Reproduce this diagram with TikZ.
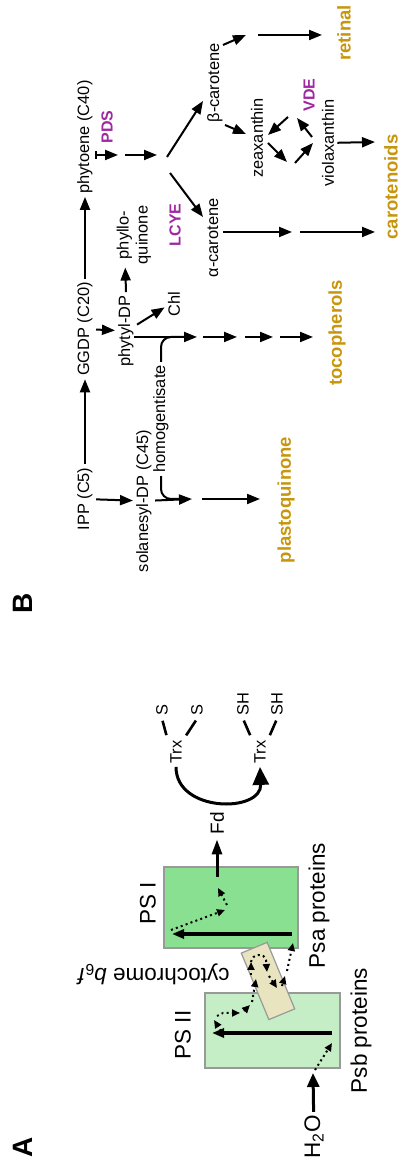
\documentclass[tikz,border=0pt]{standalone}
\usepackage{fontspec}
\setmainfont{Liberation Sans}
\usetikzlibrary{arrows.meta}
\definecolor{gold}{RGB}{200,150,12}
\definecolor{enzymecol}{RGB}{160,40,160}
\definecolor{psone}{RGB}{136,224,144}
\definecolor{pstwo}{RGB}{198,238,198}
\definecolor{cytb}{RGB}{232,228,192}

\begin{document}
\begin{tikzpicture}[>={Triangle[length=6.5pt,width=5pt]},x=0.5pt,y=-0.5pt,rotate=90,transform shape,
	lbl/.style={inner sep=1.5pt,font=\fontsize{8.2}{9.5}\selectfont},
	big/.style={inner sep=1.5pt,font=\fontsize{11.25}{13}\selectfont},
	product/.style={inner sep=1.5pt,text=gold,font=\fontsize{9.25}{11}\selectfont\bfseries},
	enzyme/.style={inner sep=1.5pt,text=enzymecol,font=\fontsize{8}{9.5}\selectfont\bfseries},
	panel/.style={font=\fontsize{14}{16}\selectfont\bfseries},
	complex/.style={draw=gray!80,line width=0.6pt},
	flow/.style={->,line width=1pt},
	merge/.style={line width=1pt,rounded corners=5pt},
	excite/.style={->,line width=1.8pt,>={Triangle[length=6pt,width=4.5pt]}},
	transfer/.style={->,line width=1pt,dash pattern=on 1pt off 1.6pt,>={Triangle[length=4pt,width=3.5pt]}},
	bond/.style={line width=1.3pt,shorten <=1pt,shorten >=1pt},
	redox/.style={->,line width=1.5pt,>={Triangle[length=9pt,width=8pt]}}]
	\useasboundingbox (0,0) rectangle (1165,404);

	\node[panel] (A) at (18,23) {A};
	\node[complex,fill=pstwo,minimum width=37.5pt,minimum height=67.5pt] (ps2) at (134.5,272.5) {};
	\node[complex,fill=psone,minimum width=40.5pt,minimum height=67pt] (ps1) at (257.5,231) {};
	\node[complex,fill=cytb,rotate=22.5,minimum width=36pt,minimum height=14pt] (cyt) at (184,268) {};
	\node[big] (ps2lbl) at (130,183) {PS II};
	\node[big] (ps1lbl) at (262,148) {PS I};
	\node[big,rotate=90] (cytlbl) at (191,153) {cytochrome \textit{b}\textsubscript{6}\textit{f}};
	\node[big] (psb) at (134.5,361) {Psb proteins};
	\node[big] (psa) at (259.5,319) {Psa proteins};
	\node[big] (h2o) at (28,314) {H\textsubscript{2}O};
	\node[inner sep=1.5pt,font=\fontsize{9.5}{11}\selectfont] (fd) at (342,217) {Fd};
	\node[lbl] (trx1) at (413,176) {Trx};
	\node[lbl] (trx2) at (413,260) {Trx};
	\node[lbl] (s1) at (455,162) {S};
	\node[lbl] (s2) at (455,197) {S};
	\node[lbl] (sh1) at (461,243) {SH};
	\node[lbl] (sh2) at (461,277) {SH};

	\coordinate (h2oend) at (92,313);
	\coordinate (w0) at (95,315);
	\coordinate (w1) at (122,332);
	\coordinate (ps2a) at (132,332);
	\coordinate (ps2b) at (132,212);
	\coordinate (d0) at (134,221);
	\coordinate (d1) at (145,214);
	\coordinate (d2) at (149,217);
	\coordinate (d3) at (152,223);
	\coordinate (d4) at (152,240);
	\coordinate (d5) at (154,244);
	\coordinate (d6) at (160,250);
	\coordinate (e0) at (163,252);
	\coordinate (e1) at (186,256);
	\coordinate (e2) at (190,251);
	\coordinate (e3) at (203,251);
	\coordinate (e4) at (205,266);
	\coordinate (e5) at (193,267);
	\coordinate (e6) at (189,269);
	\coordinate (e7) at (177,277);
	\coordinate (e8) at (179,282);
	\coordinate (e9) at (189,285);
	\coordinate (e10) at (194,287);
	\coordinate (e11) at (222,293);
	\coordinate (ps1a) at (231,292);
	\coordinate (ps1b) at (231,172);
	\coordinate (f0) at (235,171);
	\coordinate (f1) at (255,225);
	\coordinate (f2) at (260,227);
	\coordinate (f3) at (277,218);
	\coordinate (fd0) at (288,217);

	\draw[flow,line width=1.5pt,>={Triangle[length=7pt,width=6pt]}] (h2o) -- (h2oend);
	\draw[transfer] (w0) -- (w1);
	\draw[excite] (ps2a) -- (ps2b);
	\draw[transfer] (d0) -- (d1);
	\draw[transfer] (d2) -- (d3) -- (d4);
	\draw[transfer] (d5) -- (d6);
	\draw[transfer] (e0) -- (e1);
	\draw[transfer] (e2) -- (e3);
	\draw[transfer,-] (e3) .. controls (212,252) and (212,265) .. (e4);
	\draw[transfer] (e4) -- (e5);
	\draw[transfer] (e6) -- (e7);
	\draw[transfer] (e8) -- (e9);
	\draw[transfer] (e10) -- (e11);
	\draw[excite] (ps1a) -- (ps1b);
	\draw[transfer] (f0) -- (f1);
	\draw[transfer] (f2) -- (f3);
	\draw[flow,line width=1.5pt,>={Triangle[length=7.5pt,width=5pt]},shorten >=1pt] (fd0) -- (fd);
	\draw[redox] (trx1.west) .. controls (352,176) and (352,262) .. (trx2.west);
	\draw[bond] (trx1.north east) -- (s1.west);
	\draw[bond] (trx1.south east) -- (s2.west);
	\draw[bond] (trx2.north east) -- (sh1.west);
	\draw[bond] (trx2.south east) -- (sh2.west);

	\node[panel] (B) at (562,23) {B};
	\node[lbl] (ipp) at (666,85) {IPP (C5)};
	\node[lbl] (ggdp) at (836,85) {GGDP (C20)};
	\node[lbl] (phyt) at (1028,85) {phytoene (C40)};
	\node[lbl] (sol) at (664,144) {solanesyl-DP (C45)};
	\node[lbl] (homo) at (746,161) {homogentisate};
	\node[lbl] (phytyl) at (834,126) {phytyl-DP};
	\node[lbl,align=center] (phyllo) at (930,134) {phyllo-\\quinone};
	\node[lbl] (chl) at (861,174) {Chl};
	\node[enzyme] (pds) at (1038,107) {PDS};
	\node[enzyme] (lcye) at (940,175) {LCYE};
	\node[enzyme] (vde) at (1070,309) {VDE};
	\node[lbl] (bcar) at (1082,215) {β-carotene};
	\node[lbl] (acar) at (927,213) {α-carotene};
	\node[lbl] (zea) at (1027,257) {zeaxanthin};
	\node[lbl] (vio) at (1022,328) {violaxanthin};
	\node[product] (pq) at (665,286) {plastoquinone};
	\node[product] (toco) at (832,337) {tocopherols};
	\node[product] (car) at (978,391) {carotenoids};
	\node[product] (ret) at (1132,344) {retinal};

	\coordinate (pq1) at (666,192);
	\coordinate (pq2) at (666,202);
	\coordinate (pq3) at (666,260);
	\coordinate (hj0) at (666,161);
	\coordinate (hj1) at (666,182);
	\coordinate (hk0) at (828,161);
	\coordinate (hk1) at (828,186);
	\coordinate (tc0) at (828,134);
	\coordinate (tc1) at (828,197);
	\coordinate (tc2) at (828,203);
	\coordinate (tc3) at (828,237);
	\coordinate (tc4) at (828,245);
	\coordinate (tc5) at (828,273);
	\coordinate (tc6) at (828,280);
	\coordinate (tc7) at (828,313);
	\coordinate (cp0) at (1010,95);
	\coordinate (cp1) at (1010,118);
	\coordinate (cp2) at (1010,125);
	\coordinate (cp3) at (1010,157);
	\coordinate (cb1) at (1008,167);
	\coordinate (cb2) at (1064,203);
	\coordinate (ca1) at (992,170);
	\coordinate (ca2) at (948,203);
	\coordinate (bz1) at (1040,225);
	\coordinate (bz2) at (1031,246);
	\coordinate (rt0) at (1120,223);
	\coordinate (rt1) at (1130,246);
	\coordinate (rt2) at (1130,258);
	\coordinate (rt3) at (1130,322);
	\coordinate (ac0) at (933,223);
	\coordinate (ac1) at (933,292);
	\coordinate (ac2) at (933,300);
	\coordinate (ac3) at (933,375);
	\coordinate (vc1) at (1023,375);
	\coordinate (x1a) at (1048,288);
	\coordinate (x1b) at (1030,268);
	\coordinate (x2a) at (1028,312);
	\coordinate (x2b) at (1047,297);
	\coordinate (x3a) at (1022,268);
	\coordinate (x3b) at (1003,287);
	\coordinate (x4a) at (1002,295);
	\coordinate (x4b) at (1022,313);

	\draw[flow] (ipp) -- (ggdp);
	\draw[flow] (ggdp) -- (phyt);
	\draw[flow] (ipp) -- (sol);
	\draw[flow] (sol) -- (pq1);
	\draw[flow] (pq2) -- (pq3);
	\draw[merge] (homo.west) -- (hj0) -- (hj1);
	\draw[merge] (homo.east) -- (hk0) -- (hk1);
	\draw[flow] (ggdp) -- (phytyl);
	\draw[flow] (phytyl.east) -- (phyllo.165);
	\draw[flow] (phytyl.-60) -- (chl.110);
	\draw[flow] (tc0) -- (tc1);
	\draw[flow] (tc2) -- (tc3);
	\draw[flow] (tc4) -- (tc5);
	\draw[flow] (tc6) -- (tc7);
	\draw[flow,{Bar[width=4pt]}->] (cp0) -- (cp1);
	\draw[flow] (cp2) -- (cp3);
	\draw[flow] (cb1) -- (cb2);
	\draw[flow] (ca1) -- (ca2);
	\draw[flow] (bz1) -- (bz2);
	\draw[flow] (rt0) -- (rt1);
	\draw[flow] (rt2) -- (rt3);
	\draw[flow] (ac0) -- (ac1);
	\draw[flow] (ac2) -- (ac3);
	\draw[flow] (vio) -- (vc1);
	\draw[flow] (x1a) -- (x1b);
	\draw[flow] (x2a) -- (x2b);
	\draw[flow] (x3a) -- (x3b);
	\draw[flow] (x4a) -- (x4b);
\end{tikzpicture}
\end{document}
